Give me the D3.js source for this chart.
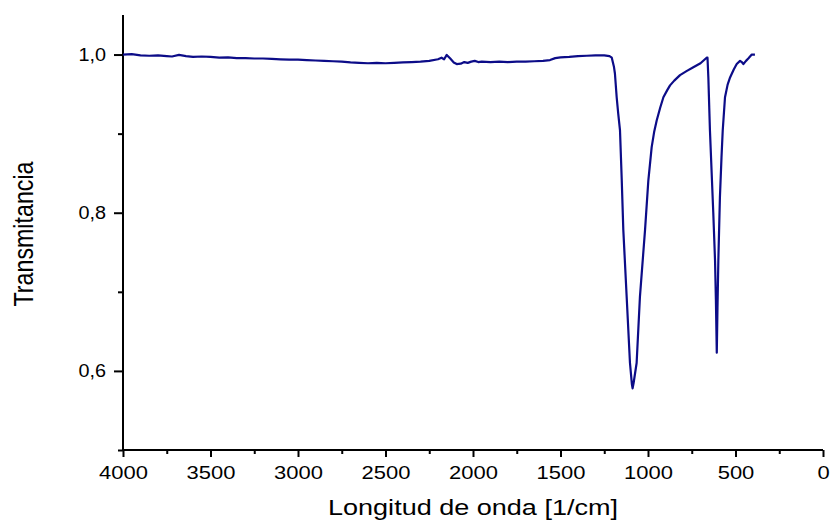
<!DOCTYPE html>
<html>
<head>
<meta charset="utf-8">
<script src="https://cdn.jsdelivr.net/npm/d3@7/dist/d3.min.js"></script>
<style>
  html, body { margin: 0; padding: 0; background: #fff; }
  svg { display: block; }
  text { font-family: "Liberation Sans", Arial, sans-serif; fill: #000; }
</style>
</head>
<body>
<svg id="chart" width="832" height="520"></svg>
<script>
// Wavenumber (1/cm) and transmittance
const wavenumber = [
  4000, 3950, 3900, 3850, 3800, 3750, 3720, 3680, 3640, 3600, 3550, 3500, 3450, 3400, 3350, 3300,
  3250, 3200, 3150, 3100, 3050, 3000, 2950, 2900, 2850, 2800, 2750, 2700, 2650, 2600, 2550, 2500,
  2450, 2400, 2350, 2300, 2250, 2200, 2180, 2165, 2150, 2130, 2110, 2093, 2070, 2050, 2030, 2010,
  1990, 1970, 1950, 1900, 1850, 1800, 1750, 1700, 1650, 1600, 1560, 1530, 1500, 1450, 1400, 1350,
  1300, 1250, 1220, 1207, 1195, 1189, 1179, 1170, 1160, 1150, 1141, 1122, 1103, 1092, 1088, 1082,
  1065, 1046, 1017, 998, 979, 965, 950, 930, 912, 890, 874, 850, 817, 780, 741, 700,
  665, 660, 655, 646, 627, 617, 612, 607, 603, 598, 589, 580, 573, 560, 545, 531,
  510, 493, 474, 462, 455, 440, 427, 407, 389
];
const transmittance = [
  1.000, 1.0005, 0.999, 0.9985, 0.999, 0.998, 0.9975, 0.9995, 0.998, 0.997, 0.9975, 0.997, 0.996, 0.9965, 0.9955, 0.9955,
  0.995, 0.995, 0.9945, 0.994, 0.9935, 0.9935, 0.993, 0.9925, 0.992, 0.9915, 0.991, 0.990, 0.9895, 0.989, 0.9895, 0.989,
  0.9895, 0.990, 0.9905, 0.991, 0.992, 0.994, 0.996, 0.994, 0.9995, 0.995, 0.990, 0.988, 0.9885, 0.9905, 0.9895, 0.991,
  0.992, 0.9905, 0.991, 0.9905, 0.991, 0.9905, 0.991, 0.991, 0.9915, 0.992, 0.993, 0.9955, 0.9965, 0.997, 0.998, 0.9985,
  0.999, 0.999, 0.998, 0.996, 0.985, 0.976, 0.946, 0.925, 0.904, 0.841, 0.778, 0.694, 0.610, 0.583, 0.578, 0.585,
  0.610, 0.694, 0.778, 0.841, 0.883, 0.902, 0.917, 0.933, 0.946, 0.955, 0.961, 0.967, 0.974, 0.979, 0.984, 0.989,
  0.996, 0.996, 0.970, 0.904, 0.800, 0.740, 0.690, 0.623, 0.680, 0.740, 0.820, 0.870, 0.904, 0.946, 0.962, 0.971,
  0.981, 0.988, 0.992, 0.990, 0.988, 0.992, 0.995, 1.000, 1.000
];
const xTicks = [4000, 3500, 3000, 2500, 2000, 1500, 1000, 500, 0];
const yTicks = [0.6, 0.8, 1.0];
const xLabel = "Longitud de onda [1/cm]";
const yLabel = "Transmitancia";

const svg = d3.select("#chart");
const mLeft = 123, mRight = 823, mTop = 15, mBottom = 450;

const x = d3.scaleLinear().domain([4000, 0]).range([mLeft, mRight]);
const y = d3.scaleLinear().domain([0.5, 1.05]).range([mBottom, mTop]);

const fmt = d => d3.format(".1f")(d).replace(".", ",");

const xMinor = d3.range(3750, 0, -500);
const yMinor = [0.5, 0.7, 0.9];

const gx = svg.append("g").attr("transform", `translate(0,${mBottom})`);
gx.append("g").call(d3.axisBottom(x).tickValues(xMinor).tickSize(4).tickFormat(""))
  .call(g => g.select(".domain").remove());
const gxMajor = gx.append("g").call(d3.axisBottom(x).tickValues(xTicks).tickSize(7).tickPadding(9).tickFormat(d3.format("d")))
  .call(g => g.select(".domain").attr("d", `M${mLeft},0H${mRight}`));

const gy = svg.append("g").attr("transform", `translate(${mLeft},0)`);
gy.append("g").call(d3.axisLeft(y).tickValues(yMinor).tickSize(5).tickFormat(""))
  .call(g => g.select(".domain").remove());
const gyMajor = gy.append("g").call(d3.axisLeft(y).tickValues(yTicks).tickSize(9).tickPadding(8).tickFormat(fmt))
  .call(g => g.select(".domain").attr("d", `M0,${mTop}V${mBottom}`));

svg.selectAll(".domain, .tick line").attr("stroke", "#000").attr("stroke-width", 2);
svg.selectAll(".tick text").attr("font-size", 18).attr("font-family", "Liberation Sans, Arial, sans-serif").attr("fill", "#000");

// the reference's lettering is horizontally widened
gxMajor.selectAll(".tick text").each(function () {
  const w = this.getComputedTextLength();
  d3.select(this).attr("textLength", w * 1.22).attr("lengthAdjust", "spacingAndGlyphs");
});
gyMajor.selectAll(".tick text").each(function () {
  const w = this.getComputedTextLength();
  d3.select(this).attr("textLength", w * 1.1).attr("lengthAdjust", "spacingAndGlyphs");
});

const line = d3.line().x((d, i) => x(wavenumber[i])).y((d, i) => y(transmittance[i]));
svg.append("path")
  .datum(wavenumber)
  .attr("d", line)
  .attr("fill", "none")
  .attr("stroke", "#0c0c88")
  .attr("stroke-width", 2.2)
  .attr("stroke-linejoin", "round");

svg.append("text")
  .attr("x", 473)
  .attr("y", 515)
  .attr("text-anchor", "middle")
  .attr("font-size", 22)
  .attr("textLength", 290)
  .attr("lengthAdjust", "spacingAndGlyphs")
  .text(xLabel);

svg.append("text")
  .attr("transform", `translate(33,234) rotate(-90)`)
  .attr("text-anchor", "middle")
  .attr("font-size", 27)
  .attr("textLength", 145)
  .attr("lengthAdjust", "spacingAndGlyphs")
  .text(yLabel);
</script>
</body>
</html>
